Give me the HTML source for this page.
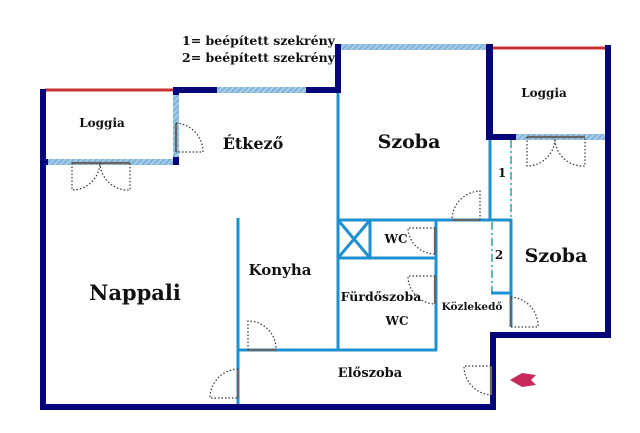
<!DOCTYPE html>
<html><head><meta charset="utf-8"><style>
html,body{margin:0;padding:0;background:#fff;}
svg{display:block}
text{font-family:"DejaVu Serif","Liberation Serif",serif;font-weight:bold;fill:#111;}
</style></head><body>
<svg width="640" height="433" viewBox="0 0 640 433" xmlns="http://www.w3.org/2000/svg">
<defs>
<pattern id="h" width="4" height="4" patternUnits="userSpaceOnUse" patternTransform="rotate(45)">
<rect width="4" height="4" fill="#a8cde8"/><rect width="2" height="4" fill="#7fb3da"/>
</pattern>
</defs>
<!-- light blue interior walls -->
<g stroke="#1e8fcf" stroke-width="3" fill="none">
<line x1="338" y1="90" x2="338" y2="351"/>
<line x1="238" y1="218" x2="238" y2="408"/>
<line x1="237" y1="350" x2="437" y2="350"/>
<line x1="436" y1="220" x2="436" y2="351"/>
<line x1="337" y1="220" x2="512" y2="220"/>
<line x1="337" y1="258" x2="436" y2="258"/>
<line x1="370" y1="220" x2="370" y2="258"/>
<line x1="338" y1="220" x2="370" y2="258"/>
<line x1="370" y1="220" x2="338" y2="258"/>
<line x1="490" y1="137" x2="490" y2="221"/>
<line x1="511" y1="219" x2="511" y2="327"/>
<line x1="491" y1="293" x2="512" y2="293"/>
</g>
<g stroke="#2aa0a0" stroke-width="1.5" stroke-dasharray="8,3,2,3" fill="none">
<line x1="511" y1="140" x2="511" y2="219"/>
<line x1="492" y1="222" x2="492" y2="292"/>
</g>
<!-- hatched windows -->
<rect x="217" y="87" width="89" height="6" fill="url(#h)"/>
<rect x="340" y="44" width="147" height="6" fill="url(#h)"/>
<rect x="515" y="134" width="92" height="6" fill="url(#h)"/>
<rect x="46" y="159" width="127" height="6" fill="url(#h)"/>
<rect x="173" y="93" width="6" height="68" fill="url(#h)"/>
<!-- red lines -->
<line x1="45" y1="90" x2="174" y2="90" stroke="#c83232" stroke-width="3"/>
<line x1="493" y1="48" x2="607" y2="48" stroke="#c83232" stroke-width="3"/>
<!-- navy walls -->
<g fill="#05057a">
<rect x="40" y="89" width="6" height="321"/>
<rect x="40" y="404" width="456" height="6"/>
<rect x="490" y="332" width="6" height="78"/>
<rect x="490" y="332" width="121" height="6"/>
<rect x="605" y="45" width="6" height="293"/>
<rect x="173" y="87" width="44" height="6"/>
<rect x="173" y="87" width="6" height="8"/>
<rect x="306" y="87" width="34" height="6"/>
<rect x="335" y="44" width="6" height="49"/>
<rect x="486" y="44" width="7" height="96"/>
<rect x="486" y="134" width="30" height="6"/>
<rect x="40" y="159" width="8" height="6"/>
<rect x="173" y="157" width="6" height="8"/>
</g>
<!-- doors -->
<g stroke="#666" stroke-width="2.2" fill="none">
<line x1="176" y1="123" x2="176" y2="152"/>
<line x1="72" y1="163" x2="130" y2="163"/>
<line x1="527" y1="137" x2="585" y2="137"/>
<line x1="452" y1="220" x2="480" y2="220"/>
<line x1="435" y1="228" x2="435" y2="254"/>
<line x1="435" y1="276" x2="435" y2="304"/>
<line x1="511" y1="297" x2="511" y2="327"/>
<line x1="248" y1="350" x2="276" y2="350"/>
<line x1="238" y1="369" x2="238" y2="398"/>
<line x1="491" y1="366" x2="491" y2="395"/>
</g>
<g stroke="#333" stroke-width="1.2" stroke-dasharray="1.5,2" fill="none">
<path d="M176 123 A29 29 0 0 1 203 152 L176 152"/>
<path d="M72 163 L72 190 A28 28 0 0 0 100 163 A28 28 0 0 0 130 190 L130 163"/>
<path d="M527 137 L527 166 A28 28 0 0 0 555 137 A28 28 0 0 0 585 166 L585 137"/>
<path d="M480 220 L480 191 A29 29 0 0 0 452 220"/>
<path d="M435 228 L408 228 A27 27 0 0 0 435 254"/>
<path d="M435 276 L408 276 A28 28 0 0 0 435 304"/>
<path d="M511 297 A29 29 0 0 1 538 327 L511 327"/>
<path d="M248 350 L248 321 A28 28 0 0 1 276 350"/>
<path d="M238 369 A29 29 0 0 0 210 398 L238 398"/>
<path d="M491 366 L464 366 A29 29 0 0 0 491 395"/>
</g>
<!-- arrow -->
<polygon points="510,380 522,373 536,375 531,380 536,385 522,387" fill="#c8285a"/>
<!-- texts -->
<text x="182" y="45" font-size="12.5">1= beépített szekrény</text>
<text x="182" y="62" font-size="12.5">2= beépített szekrény</text>
<text x="102" y="127" font-size="12" text-anchor="middle">Loggia</text>
<text x="253" y="149" font-size="16" text-anchor="middle">Étkező</text>
<text x="409" y="148" font-size="19" text-anchor="middle">Szoba</text>
<text x="544" y="97" font-size="12" text-anchor="middle">Loggia</text>
<text x="135" y="300" font-size="21" text-anchor="middle">Nappali</text>
<text x="280" y="275" font-size="15" text-anchor="middle">Konyha</text>
<text x="396" y="243" font-size="12" text-anchor="middle">WC</text>
<text x="381" y="301" font-size="12.5" text-anchor="middle">Fürdőszoba</text>
<text x="397" y="325" font-size="12" text-anchor="middle">WC</text>
<text x="472" y="310" font-size="10.5" text-anchor="middle">Közlekedő</text>
<text x="556" y="262" font-size="19" text-anchor="middle">Szoba</text>
<text x="370" y="377" font-size="13" text-anchor="middle">Előszoba</text>
<text x="502" y="177" font-size="12" text-anchor="middle">1</text>
<text x="499" y="259" font-size="12" text-anchor="middle">2</text>
</svg>
</body></html>
